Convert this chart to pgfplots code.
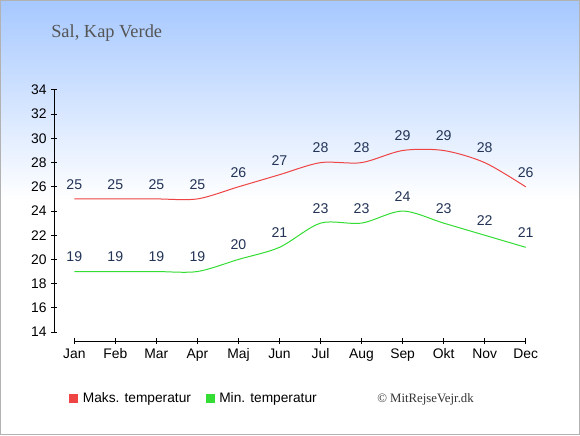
\documentclass[border=0pt]{standalone}
\usepackage{pgfplots}
\pgfplotsset{compat=1.18}
\usepackage{fontspec}
\setmainfont{Liberation Sans}
\newfontfamily\seriffont{Liberation Serif}
\definecolor{maxc}{RGB}{238,68,68}
\definecolor{minc}{RGB}{51,221,51}
\definecolor{lblc}{RGB}{34,51,85}
\definecolor{bgtop}{RGB}{166,200,255}
\definecolor{titc}{RGB}{85,85,85}
\begin{document}
\begin{tikzpicture}[x=0.75pt,y=0.75pt]
\useasboundingbox (0,0) rectangle (580,435);
\fill[white] (0,0) rectangle (580,435);
\shade[top color=bgtop, bottom color=white] (0,235) rectangle (580,435);
\draw[black!30, line width=0.75pt] (0.5,0.5) rectangle (579.5,434.5);
\node[anchor=base west, font=\seriffont\fontsize{13.8pt}{16pt}\selectfont, text=titc, inner sep=0pt] at (51,397) {Sal, Kap Verde};
\node[anchor=base west, font=\seriffont\fontsize{9.6pt}{12pt}\selectfont, text=black!80, inner sep=0pt] at (377,33) {© MitRejseVejr.dk};
\begin{axis}[
  scale only axis,
  width=353.55pt, height=188.25pt,
  at={(40.725pt,70.5pt)}, anchor=south west,
  xmin=-0.487, xmax=11, ymin=13.26, ymax=34,
  axis lines*=left,
  axis line style={draw=none},
  xtick={0,...,11},
  xticklabels={Jan,Feb,Mar,Apr,Maj,Jun,Jul,Aug,Sep,Okt,Nov,Dec},
  ytick={14,16,...,34},
  tick align=center,
  major tick length=4.5pt,
  tick style={black, line width=0.75pt},
  ticklabel style={font=\fontsize{10.4pt}{12pt}\selectfont, text=black},
  /pgf/number format/assume math mode=true,
  clip=false,
  nodes near coords,
  every node near coord/.append style={font=\fontsize{10.6pt}{12pt}\selectfont, text=lblc, anchor=south, inner sep=0pt, yshift=6.75pt},
  legend columns=2,
  legend style={at={(0.031,-0.229)}, anchor=west, draw=none, fill=none, inner sep=0pt,
    font=\fontsize{10.3pt}{12pt}\selectfont,
    /tikz/every even column/.append style={column sep=9pt}},
  legend image code/.code={\fill[#1, draw=none] (0pt,-3.375pt) rectangle (6.75pt,3.375pt);
    \path[draw=none, fill=none] (0pt,0pt) -- (8.25pt,0pt);},
]
\addplot[maxc, line width=0.75pt, smooth, mark=none] coordinates {
(0,25) (1,25) (2,25) (3,25) (4,26) (5,27) (6,28) (7,28) (8,29) (9,29) (10,28) (11,26)};
\addlegendentry{Maks. temperatur}
\addplot[minc, line width=0.75pt, smooth, mark=none] coordinates {
(0,19) (1,19) (2,19) (3,19) (4,20) (5,21) (6,23) (7,23) (8,24) (9,23) (10,22) (11,21)};
\addlegendentry{Min. temperatur}
\draw[black, line width=0.75pt] (axis cs:-0.487,14) -- (axis cs:-0.487,34);
\draw[black, line width=0.75pt] (axis cs:0,13.26) -- (axis cs:11,13.26);
\end{axis}
\end{tikzpicture}
\end{document}
